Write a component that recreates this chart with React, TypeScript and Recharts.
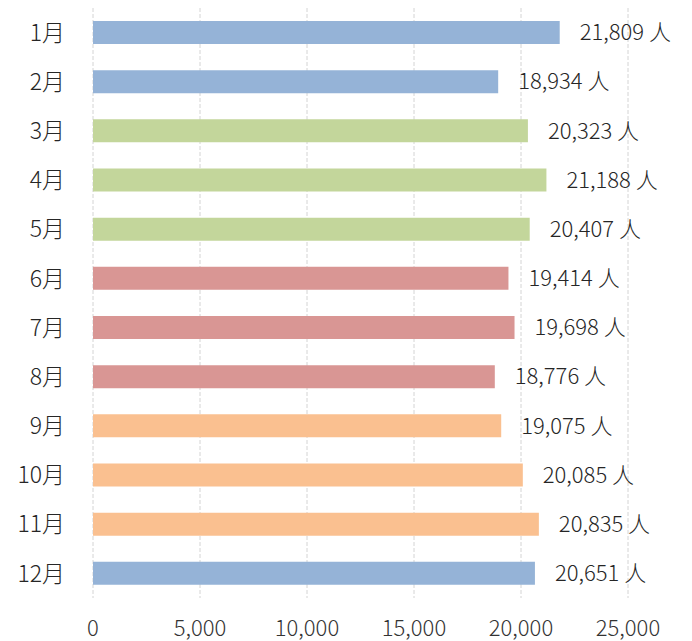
import { Bar, BarChart, CartesianGrid, Cell, LabelList, XAxis, YAxis } from "recharts";

const months = ["1月", "2月", "3月", "4月", "5月", "6月", "7月", "8月", "9月", "10月", "11月", "12月"];
const visitors = [21809, 18934, 20323, 21188, 20407, 19414, 19698, 18776, 19075, 20085, 20835, 20651];
const seasonColors = [
  "#95b3d7", "#95b3d7",
  "#c3d69b", "#c3d69b", "#c3d69b",
  "#d99694", "#d99694", "#d99694",
  "#fac090", "#fac090", "#fac090",
  "#95b3d7",
];
const xTicks = [0, 5000, 10000, 15000, 20000, 25000];

const data = months.map((month, i) => ({ month, visitors: visitors[i] }));

const font = "'Noto Sans CJK TC', 'Noto Sans', sans-serif";

export default function App() {
  return (
    <div style={{ position: "absolute", left: 0, top: 0 }}>
      <BarChart
        width={692}
        height={641}
        data={data}
        layout="vertical"
        margin={{ top: 8, right: 64, bottom: 0, left: 0 }}
        barSize={23}
      >
        <CartesianGrid horizontal={false} stroke="#d4d4d4" strokeDasharray="4 2" />
        <XAxis
          type="number"
          domain={[0, 25000]}
          ticks={xTicks}
          height={43}
          axisLine={false}
          tickLine={false}
          tickSize={0}
          tickMargin={22}
          tickFormatter={(v: number) => v.toLocaleString("en-US")}
          tick={{ fontFamily: font, fontSize: 22, fontWeight: 300, fill: "#333333" }}
        />
        <YAxis
          type="category"
          dataKey="month"
          width={93}
          axisLine={false}
          tickLine={false}
          tickSize={0}
          tickMargin={28}
          tick={{ fontFamily: font, fontSize: 23, fontWeight: 300, fill: "#262626" }}
        />
        <Bar dataKey="visitors" isAnimationActive={false}>
          {data.map((d, i) => (
            <Cell key={d.month} fill={seasonColors[i]} />
          ))}
          <LabelList
            dataKey="visitors"
            position="right"
            offset={20}
            formatter={(v: number) => `${v.toLocaleString("en-US")} 人`}
            style={{ fontFamily: font, fontSize: 22, fontWeight: 300, fill: "#262626" }}
          />
        </Bar>
      </BarChart>
    </div>
  );
}
